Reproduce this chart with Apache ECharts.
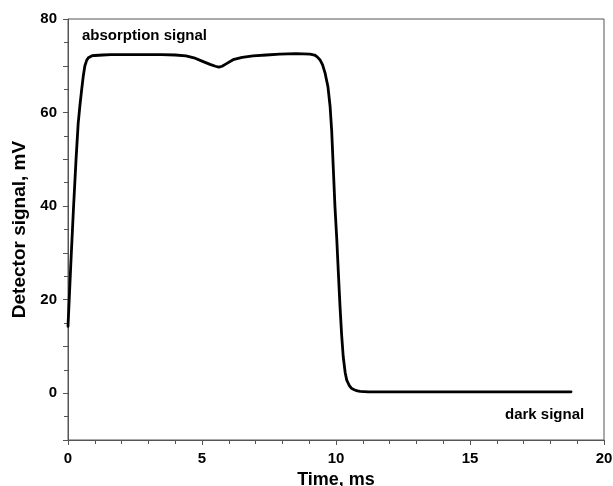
<!DOCTYPE html>
<html>
<head>
<meta charset="utf-8">
<title>Detector signal</title>
<script src="https://cdn.jsdelivr.net/npm/echarts@6/dist/echarts.min.js"></script>
<style>
  html, body { margin: 0; padding: 0; background: #fff; }
  #chart { width: 613px; height: 486px; }
</style>
</head>
<body>
<div id="chart"></div>
<script>
// time, ms
var timeMs = [0, 0.1, 0.2, 0.3, 0.38, 0.45, 0.51, 0.57, 0.63, 0.7, 0.76, 0.82, 0.9, 1.0, 1.3, 1.6,
  2.5, 3.5, 4.0, 4.4, 4.7, 5.0, 5.3, 5.5, 5.63, 5.75, 5.9, 6.16, 6.5, 6.9, 7.4, 7.9, 8.5,
  9.03, 9.2, 9.3, 9.4, 9.5, 9.59, 9.7, 9.78, 9.84, 9.9, 9.96, 10.03, 10.09, 10.15,
  10.21, 10.27, 10.34, 10.4, 10.5, 10.59, 10.7, 10.8, 10.9, 11.2, 12, 14, 16, 18.77];
// detector signal, mV
var signalMv = [14.3, 27, 39, 50, 57.7, 61.8, 64.9, 67.8, 70.0, 71.2, 71.7, 72.0, 72.15, 72.2, 72.3, 72.4,
  72.4, 72.4, 72.3, 72.1, 71.7, 71.0, 70.3, 69.9, 69.7, 69.9, 70.4, 71.3, 71.8, 72.1, 72.3, 72.5, 72.6,
  72.5, 72.3, 71.9, 71.3, 70.2, 68.5, 65.5, 61.3, 56, 48, 40, 32.8, 25.5, 18.5,
  12.5, 7.8, 4.5, 2.8, 1.6, 1.0, 0.7, 0.5, 0.4, 0.3, 0.3, 0.3, 0.3, 0.3];
var yLabels = [0, 20, 40, 60, 80];

var font = "'Liberation Sans', Arial, sans-serif";
var axisColor = "#555";

var chart = echarts.init(document.getElementById("chart"));
chart.setOption({
  animation: false,
  grid: {
    left: 68, right: 9, top: 19, bottom: 46,
    containLabel: false,
    outerBoundsMode: "none",
    show: true, borderColor: axisColor, borderWidth: 1
  },
  xAxis: {
    type: "value",
    min: 0, max: 20, interval: 5,
    name: "Time, ms",
    nameLocation: "middle",
    nameGap: 18,
    nameTextStyle: { fontFamily: font, fontWeight: "bold", fontSize: 18, color: "#000", verticalAlign: "top" },
    axisLine: { onZero: false, lineStyle: { color: axisColor, width: 1 } },
    axisTick: { inside: false, length: 5, lineStyle: { color: axisColor } },
    minorTick: { show: true, splitNumber: 5, length: 4, lineStyle: { color: axisColor } },
    splitLine: { show: false },
    axisLabel: { margin: 11, fontFamily: font, fontWeight: "bold", fontSize: 15, color: "#000" }
  },
  yAxis: {
    type: "value",
    min: -10, max: 80, interval: 10,
    name: "Detector signal, mV",
    nameLocation: "middle",
    nameGap: 36,
    nameTextStyle: { fontFamily: font, fontWeight: "bold", fontSize: 19, color: "#000" },
    axisLine: { show: true, onZero: false, lineStyle: { color: axisColor, width: 1 } },
    axisTick: { inside: false, length: 5, lineStyle: { color: axisColor } },
    minorTick: { show: true, splitNumber: 2, length: 4, lineStyle: { color: axisColor } },
    splitLine: { show: false },
    axisLabel: {
      margin: 11, fontFamily: font, fontWeight: "bold", fontSize: 15, color: "#000",
      formatter: function (v) { return yLabels.indexOf(v) >= 0 ? String(v) : ""; }
    }
  },
  graphic: [
    { type: "text", left: 82, top: 28,
      style: { text: "absorption signal", font: "bold 15px " + font, fill: "#000" } },
    { type: "text", left: 505, top: 407,
      style: { text: "dark signal", font: "bold 15px " + font, fill: "#000" } }
  ],
  series: [{
    type: "line",
    data: timeMs.map(function (t, i) { return [t, signalMv[i]]; }),
    showSymbol: false,
    smooth: false,
    lineStyle: { color: "#000", width: 2.8, join: "round", cap: "round" }
  }]
});
</script>
</body>
</html>
